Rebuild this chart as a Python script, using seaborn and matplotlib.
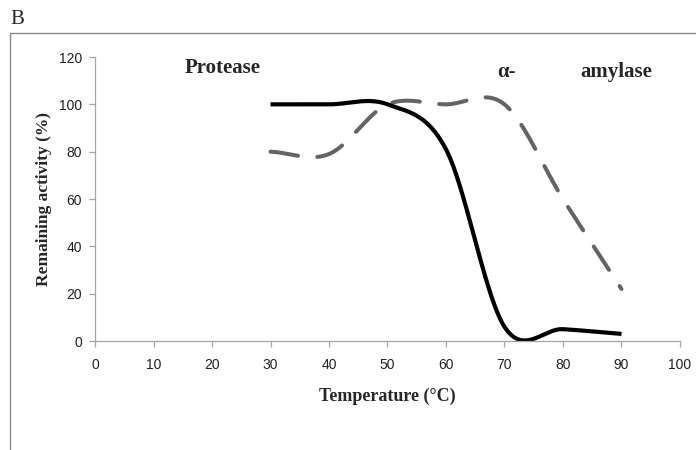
import numpy as np
import pandas as pd
import matplotlib
matplotlib.use("Agg")
import matplotlib.pyplot as plt
from matplotlib.lines import Line2D
import seaborn as sns

# Measured remaining activity after heat treatment
temperature = [30, 40, 50, 60, 70, 80, 90]
protease = [100, 100, 100, 81, 6, 5, 3]
amylase = [80, 79, 100, 100, 100, 60, 22]
x_ticks = [0, 10, 20, 30, 40, 50, 60, 70, 80, 90, 100]
y_ticks = [0, 20, 40, 60, 80, 100, 120]


def smooth(xs, ys, n=40):
    """Catmull-Rom smoothing through the measured points (spreadsheet-style smoothed line)."""
    xs = np.asarray(xs, float)
    ys = np.asarray(ys, float)
    m = len(xs)
    tx = np.empty(m)
    ty = np.empty(m)
    for i in range(m):
        a = max(i - 1, 0)
        b = min(i + 1, m - 1)
        tx[i] = (xs[b] - xs[a]) / (b - a)
        ty[i] = (ys[b] - ys[a]) / (b - a)
    out_x, out_y = [], []
    for i in range(m - 1):
        t = np.linspace(0, 1, n, endpoint=(i == m - 2))
        h00 = 2 * t**3 - 3 * t**2 + 1
        h10 = t**3 - 2 * t**2 + t
        h01 = -2 * t**3 + 3 * t**2
        h11 = t**3 - t**2
        out_x.append(h00 * xs[i] + h10 * tx[i] + h01 * xs[i + 1] + h11 * tx[i + 1])
        out_y.append(h00 * ys[i] + h10 * ty[i] + h01 * ys[i + 1] + h11 * ty[i + 1])
    return np.concatenate(out_x), np.concatenate(out_y)


sns.set_theme(style="white")
plt.rcParams["font.family"] = ["Liberation Serif", "DejaVu Serif"]
plt.rcParams["lines.scale_dashes"] = False

fig = plt.figure(figsize=(6.96, 4.5), dpi=100)
ax = fig.add_axes([0.1365, 0.2422, 0.977 - 0.1365, 0.8733 - 0.2422])

px, py = smooth(temperature, protease)
ax_, ay_ = smooth(temperature, amylase)
curves = pd.DataFrame({"T": px, "activity": py})
curves_a = pd.DataFrame({"T": ax_, "activity": ay_})

sns.lineplot(data=curves_a, x="T", y="activity", ax=ax, sort=False, estimator=None,
             color="#646464", linewidth=2.9, dashes=False)
ax.lines[-1].set_dashes([20, 14])
ax.lines[-1].set_dash_capstyle("round")
sns.lineplot(data=curves, x="T", y="activity", ax=ax, sort=False, estimator=None,
             color="black", linewidth=3.0)
ax.lines[-1].set_solid_capstyle("butt")

ax.set_xlim(0, 100)
ax.set_ylim(0, 120)
ax.set_xticks(x_ticks)
ax.set_yticks(y_ticks)
tick_font = ["Liberation Sans Narrow", "Liberation Sans", "DejaVu Sans"]
for lab in ax.get_xticklabels() + ax.get_yticklabels():
    lab.set_family(tick_font)
    lab.set_fontsize(10)
    lab.set_color("#222222")

for side in ["top", "right"]:
    ax.spines[side].set_visible(False)
for side in ["left", "bottom"]:
    ax.spines[side].set_color("#a6a6a6")
    ax.spines[side].set_linewidth(0.9)
ax.tick_params(axis="both", which="major", direction="out", length=4.5, width=0.9,
               color="#a6a6a6", bottom=True, left=True)
ax.tick_params(axis="x", pad=8)
ax.tick_params(axis="y", pad=5)

ax.set_xlabel("Temperature (°C)", fontsize=13, fontweight="bold", labelpad=11)
ax.set_ylabel("Remaining activity (%)", fontsize=12.5, fontweight="bold", labelpad=5)

ax.text(15.3, 115.5, "Protease", fontsize=15, fontweight="bold", ha="left", va="center")
ax.text(68.7, 113.5, "α-", fontsize=15, fontweight="bold", ha="left", va="center")
ax.text(83, 113.5, "amylase", fontsize=15, fontweight="bold", ha="left", va="center")

# Panel frame and letter
fig.add_artist(Line2D([0.0144, 1.0], [0.9267, 0.9267], transform=fig.transFigure,
                      color="#8c8c8c", linewidth=1.0))
fig.add_artist(Line2D([0.0144, 0.0144], [0.0, 0.9267], transform=fig.transFigure,
                      color="#8c8c8c", linewidth=1.0))
fig.text(0.0144, 0.957, "B", fontsize=15, ha="left", va="center")

fig.savefig("out.png", dpi=100)
